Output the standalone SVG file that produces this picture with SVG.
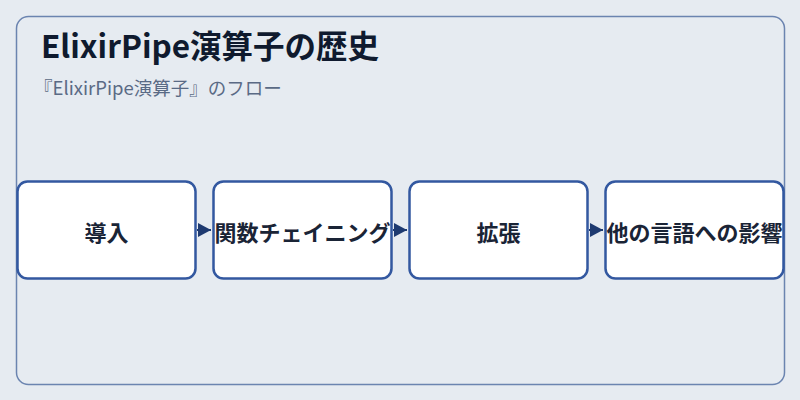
<svg xmlns="http://www.w3.org/2000/svg" width="800" height="400" viewBox="0 0 800 400">
<style>
.node rect{fill:#ffffff;stroke:#3358a0;stroke-width:2.5}
.node text{font-family:"Noto Sans CJK JP","Noto Sans",sans-serif;font-weight:bold;font-size:22px;fill:#1a2436;text-anchor:middle;dominant-baseline:central}
.conn line{stroke:#1e3a70;stroke-width:2}
</style>
<defs>
<marker id="ah" viewBox="0 0 10 10" refX="10" refY="5" markerWidth="13" markerHeight="14" markerUnits="userSpaceOnUse" orient="auto" preserveAspectRatio="none">
<path d="M0,0 L10,5 L0,10 z" fill="#1e3a70"/>
</marker>
</defs>
<rect width="800" height="400" fill="#e6ebf1"/>
<rect x="16.5" y="16.5" width="768" height="368" rx="12" fill="#e6ebf1" stroke="#6b84b0" stroke-width="1.5"/>
<text x="41" y="58" font-family="'Noto Sans CJK JP','Noto Sans',sans-serif" font-weight="bold" font-size="31.5" fill="#0f1a2e">ElixirPipe演算子の歴史</text>
<text x="34" y="95" font-family="'Noto Sans CJK JP','Noto Sans',sans-serif" font-size="18.5" fill="#5a6a85">『ElixirPipe演算子』のフロー</text>
<g class="conn">
<line x1="197" y1="230" x2="211" y2="230" marker-end="url(#ah)"/>
<line x1="393" y1="230" x2="407" y2="230" marker-end="url(#ah)"/>
<line x1="589" y1="230" x2="603" y2="230" marker-end="url(#ah)"/>
</g>
<g id="n1" class="node"><rect x="17.5" y="181.5" width="178" height="97" rx="10"/><text x="106.5" y="231">導入</text></g>
<g id="n2" class="node"><rect x="213.5" y="181.5" width="178" height="97" rx="10"/><text x="302.5" y="231">関数チェイニング</text></g>
<g id="n3" class="node"><rect x="409.5" y="181.5" width="178" height="97" rx="10"/><text x="498.5" y="231">拡張</text></g>
<g id="n4" class="node"><rect x="605.5" y="181.5" width="178" height="97" rx="10"/><text x="694.5" y="231">他の言語への影響</text></g>
</svg>
